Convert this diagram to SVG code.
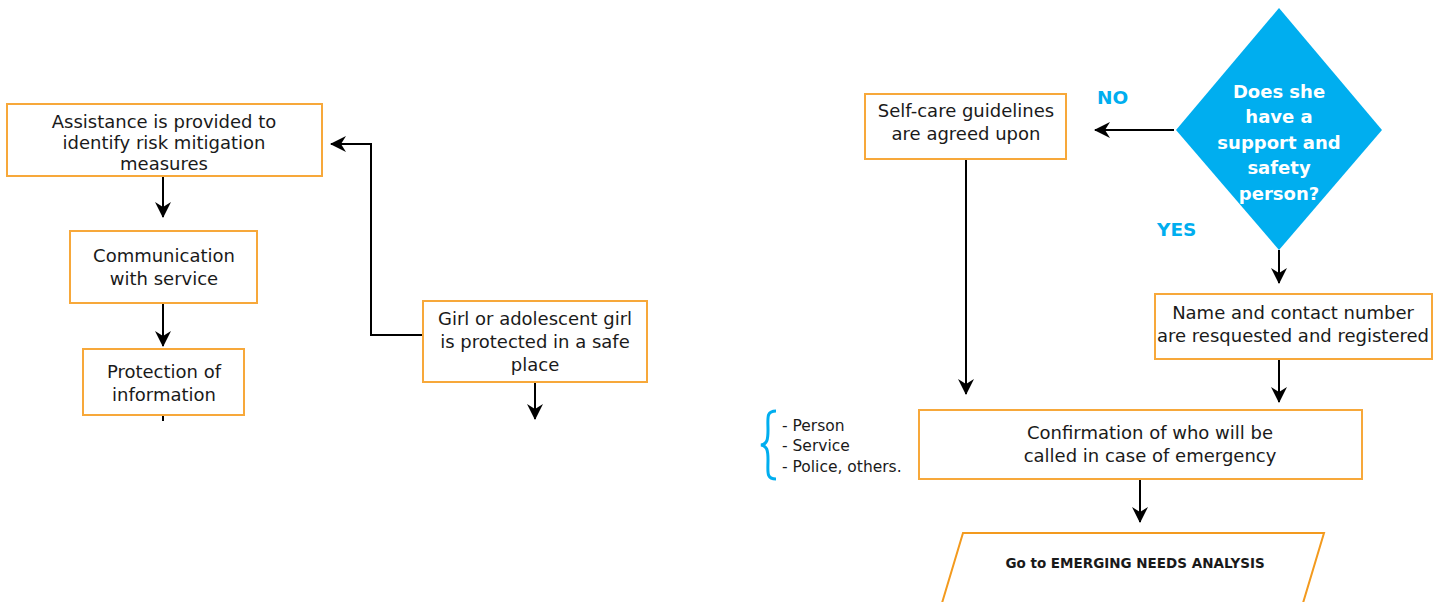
<svg xmlns="http://www.w3.org/2000/svg" width="1440" height="602" viewBox="0 0 1440 602">
  <style>
    .box { fill: #ffffff; stroke: #F7A83A; stroke-width: 2; }
    .para { fill: #ffffff; stroke: #F39A1E; stroke-width: 2; }
    .dia { fill: #00AEEF; }
    .t { font-family: "DejaVu Sans", "Liberation Sans", sans-serif; font-size: 18px; fill: #1a1a1a; text-anchor: middle; }
    .tw { font-family: "DejaVu Sans", "Liberation Sans", sans-serif; font-size: 18px; font-weight: bold; fill: #ffffff; text-anchor: middle; }
    .lbl { font-family: "DejaVu Sans", "Liberation Sans", sans-serif; font-size: 18.5px; font-weight: bold; fill: #00AEEF; }
    .note { font-family: "DejaVu Sans", "Liberation Sans", sans-serif; font-size: 15.5px; fill: #1a1a1a; }
    .tb { font-family: "DejaVu Sans", "Liberation Sans", sans-serif; font-size: 13.5px; font-weight: bold; fill: #1a1a1a; text-anchor: middle; }
    .ln { fill: none; stroke: #000000; stroke-width: 2; }
  </style>
  <defs>
    <marker id="arr" viewBox="0 0 16 16" refX="15" refY="8" markerWidth="16" markerHeight="16" markerUnits="userSpaceOnUse" orient="auto">
      <path d="M0,0 L16,8 L0,16 L5,8 Z" fill="#000000"/>
    </marker>
  </defs>

  <!-- connectors -->
  <g id="connectors">
    <path class="ln" d="M163,176 V217" marker-end="url(#arr)"/>
    <path class="ln" d="M163,303 V346" marker-end="url(#arr)"/>
    <path class="ln" d="M163,415 V421"/>
    <path class="ln" d="M423,335 H371 V144 H331" marker-end="url(#arr)"/>
    <path class="ln" d="M535,382 V419" marker-end="url(#arr)"/>
    <path class="ln" d="M1174,130 H1095" marker-end="url(#arr)"/>
    <path class="ln" d="M966,159 V394" marker-end="url(#arr)"/>
    <path class="ln" d="M1279,250 V283" marker-end="url(#arr)"/>
    <path class="ln" d="M1279,359 V402" marker-end="url(#arr)"/>
    <path class="ln" d="M1140,479 V522" marker-end="url(#arr)"/>
  </g>

  <g id="assistance">
    <rect class="box" x="7" y="104" width="315" height="72"/>
    <text class="t" x="164" y="128">Assistance is provided to</text>
    <text class="t" x="164" y="149">identify risk mitigation</text>
    <text class="t" x="164" y="170">measures</text>
  </g>

  <g id="communication">
    <rect class="box" x="70" y="231" width="187" height="72"/>
    <text class="t" x="164" y="262">Communication</text>
    <text class="t" x="164" y="285">with service</text>
  </g>

  <g id="protection">
    <rect class="box" x="83" y="349" width="161" height="66"/>
    <text class="t" x="164" y="378">Protection of</text>
    <text class="t" x="164" y="401">information</text>
  </g>

  <g id="safe-place">
    <rect class="box" x="423" y="301" width="224" height="81"/>
    <text class="t" x="535" y="325">Girl or adolescent girl</text>
    <text class="t" x="535" y="348">is protected in a safe</text>
    <text class="t" x="535" y="371">place</text>
  </g>

  <g id="self-care">
    <rect class="box" x="865" y="94" width="201" height="65"/>
    <text class="t" x="966" y="117">Self-care guidelines</text>
    <text class="t" x="966" y="140">are agreed upon</text>
  </g>

  <g id="decision">
    <polygon class="dia" points="1279,8 1382,130 1279,250 1176,130"/>
    <text class="tw" x="1279" y="98">Does she</text>
    <text class="tw" x="1279" y="123">have a</text>
    <text class="tw" x="1279" y="149">support and</text>
    <text class="tw" x="1279" y="174">safety</text>
    <text class="tw" x="1279" y="200">person?</text>
  </g>

  <g id="labels">
    <text class="lbl" x="1097" y="104">NO</text>
    <text class="lbl" x="1157" y="236">YES</text>
  </g>

  <g id="contact">
    <rect class="box" x="1155" y="294" width="277" height="65"/>
    <text class="t" x="1293" y="319">Name and contact number</text>
    <text class="t" x="1293" y="342">are resquested and registered</text>
  </g>

  <g id="confirmation">
    <rect class="box" x="919" y="410" width="443" height="69"/>
    <text class="t" x="1150" y="439">Confirmation of who will be</text>
    <text class="t" x="1150" y="462">called in case of emergency</text>
  </g>

  <g id="contacts-list">
    <path d="M776,411 C766,411 768,418 768,430 C768,440 767,444 761,445 C767,446 768,450 768,460 C768,472 766,479 776,479" fill="none" stroke="#00AEEF" stroke-width="3"/>
    <text class="note" x="782" y="431">- Person</text>
    <text class="note" x="782" y="451">- Service</text>
    <text class="note" x="782" y="472">- Police, others.</text>
  </g>

  <g id="emerging-needs">
    <polygon class="para" points="963,533 1324,533 1303,603 942,603"/>
    <text class="tb" x="1135" y="568">Go to EMERGING NEEDS ANALYSIS</text>
  </g>
</svg>
